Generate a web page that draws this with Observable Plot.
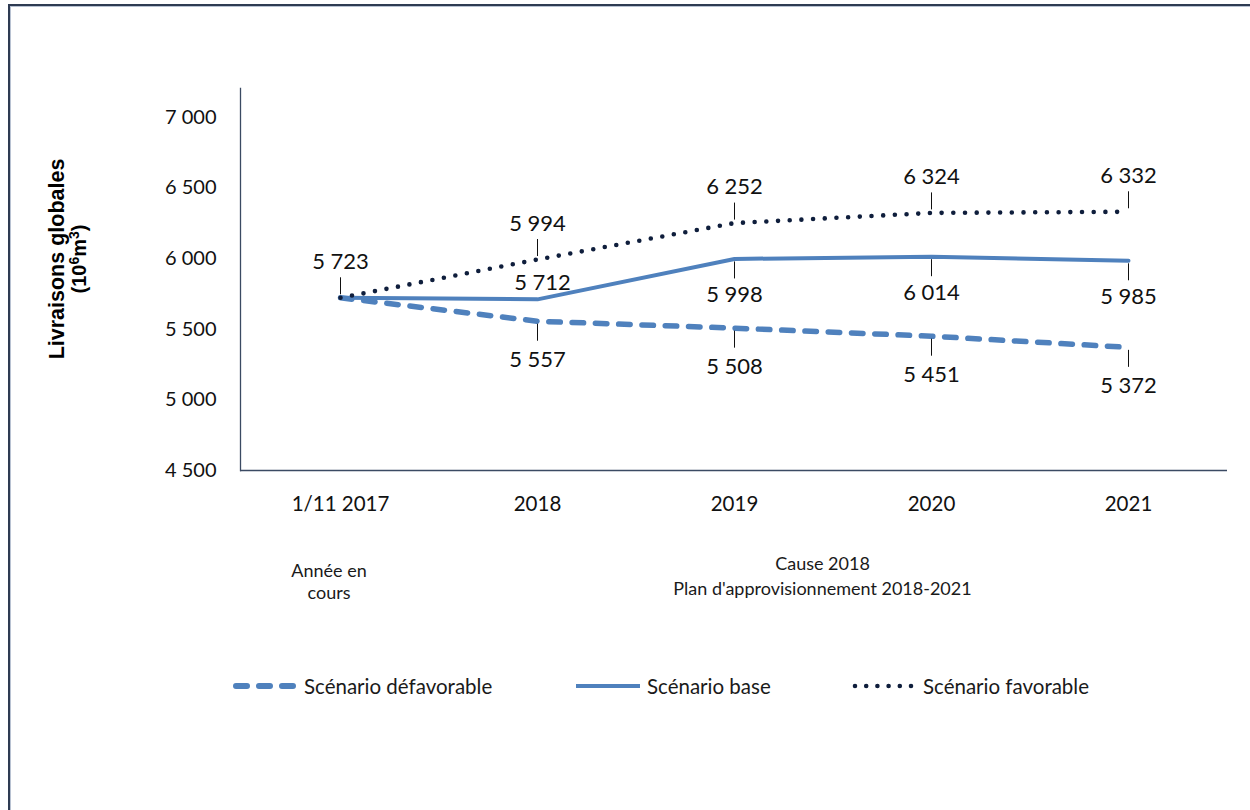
<!DOCTYPE html>
<html><head><meta charset="utf-8">
<script src="https://cdn.jsdelivr.net/npm/d3@7"></script>
<script src="https://cdn.jsdelivr.net/npm/@observablehq/plot@0.6"></script>
<style>
body{margin:0;background:#fff;font-family:Lato,"Open Sans",sans-serif;}
#wrap{position:relative;width:1250px;height:810px;overflow:hidden;background:#fff;}
#frame{position:absolute;left:8px;top:4px;width:1300px;height:900px;border-left:2px solid #2e3b52;border-top:2px solid #2e3b52;box-shadow:inset 1px 1px 0 #b8c2d2;}
#chart{position:absolute;left:0;top:0;}
.ann{position:absolute;text-align:center;font-size:18px;color:#1a1a1a;transform:translateX(-50%);white-space:nowrap;}
.ytitle{position:absolute;left:68px;top:259px;transform:translate(-50%,-50%) rotate(-90deg);font-family:"Liberation Sans",Arial,sans-serif;font-weight:bold;text-align:center;white-space:nowrap;color:#000;}
.ytitle .l1{font-size:21.5px;line-height:22px;}
.ytitle .l2{font-size:20px;line-height:22px;}
.ytitle sup{font-size:14px;vertical-align:7px;line-height:0;}
.leg{position:absolute;top:672px;display:flex;align-items:center;font-size:20.5px;color:#1a1a1a;white-space:nowrap;}
.leg svg{margin-right:7px;}
</style></head>
<body><div id="wrap">
<div id="frame"></div>
<div id="chart"></div>
<div class="ytitle"><div class="l1">Livraisons globales</div><div class="l2">(10<sup>6</sup>m<sup>3</sup>)</div></div>
<div id="anns"></div>
<div id="legend"></div>
</div>
<script>
// ---- data ----
const categories = ["1/11 2017", "2018", "2019", "2020", "2021"];
const defavorable = [5723, 5557, 5508, 5451, 5372];
const base = [5723, 5712, 5998, 6014, 5985];
const favorable = [5723, 5994, 6252, 6324, 6332];
const yTicks = [4500, 5000, 5500, 6000, 6500, 7000];
const seriesNames = ["Scénario défavorable", "Scénario base", "Scénario favorable"];
const annotations = [
  {lines: ["Année en", "cours"], at: "1/11 2017"},
  {lines: ["Cause 2018", "Plan d'approvisionnement 2018-2021"], at: "2019-2020"}
];

// ---- styles ----
const axisColor = "#3b4a63";
const blue = "#4f81bd";
const navy = "#0f1e3c";
const fmt = d3.formatLocale({thousands: " ", grouping: [3], decimal: ","}).format(",");

const toRows = (arr) => arr.map((v, i) => ({cat: categories[i], value: v, i}));
const defRows = toRows(defavorable);
const baseRows = toRows(base);
const favRows = toRows(favorable);

const favLab = favRows;
const baseAbove = baseRows.filter(d => d.i === 1);
const baseBelow = baseRows.filter(d => d.i >= 2);
const defLab = defRows.filter(d => d.i >= 1);

const labelFont = 22;
const plot = Plot.plot({
  width: 1250, height: 520,
  marginLeft: 240, marginRight: 23, marginTop: 88, marginBottom: 50,
  style: {fontFamily: "Lato, 'Open Sans', sans-serif", color: "#111", background: "transparent"},
  x: {type: "point", domain: categories, padding: 0.5},
  y: {domain: [4500, 7205]},
  marks: [
    Plot.frame({anchor: "left", stroke: axisColor, strokeWidth: 1.3}),
    Plot.ruleY([4500], {stroke: axisColor, strokeWidth: 1.3}),
    Plot.axisY({ticks: yTicks, tickSize: 0, tickPadding: 24, tickFormat: fmt, fontSize: 20, label: null}),
    Plot.axisX({tickSize: 0, tickPadding: 26, fontSize: 20.5, label: null}),
    Plot.line(defRows, {x: "cat", y: "value", stroke: blue, strokeWidth: 5.5, strokeDasharray: "11.5,11.8", strokeLinecap: "round"}),
    Plot.line(baseRows, {x: "cat", y: "value", stroke: blue, strokeWidth: 4}),
    Plot.line(favRows, {x: "cat", y: "value", stroke: navy, strokeWidth: 4.6, strokeDasharray: "0,11.7", strokeLinecap: "round"}),
    // leader lines
    Plot.ruleX(favLab, {x: "cat", y1: "value", y2: "value", insetTop: -20, insetBottom: 3, stroke: "#111", strokeWidth: 1}),
    Plot.ruleX(baseBelow, {x: "cat", y1: "value", y2: "value", insetTop: 3, insetBottom: -20, stroke: "#111", strokeWidth: 1}),
    Plot.ruleX(defLab, {x: "cat", y1: "value", y2: "value", insetTop: 3, insetBottom: -20, stroke: "#111", strokeWidth: 1}),
    // labels
    Plot.text(favLab, {x: "cat", y: "value", text: d => fmt(d.value), dy: -36, fontSize: labelFont, fill: "#111"}),
    Plot.text(baseAbove, {x: "cat", y: "value", text: d => fmt(d.value), dy: -16, dx: 5, fontSize: labelFont, fill: "#111"}),
    Plot.text(baseBelow, {x: "cat", y: "value", text: d => fmt(d.value), dy: 36, fontSize: labelFont, fill: "#111"}),
    Plot.text(defLab, {x: "cat", y: "value", text: d => fmt(d.value), dy: 39, fontSize: labelFont, fill: "#111"})
  ]
});
document.getElementById("chart").appendChild(plot);

// annotations placed with the plot's x scale
const xs = plot.scale("x");
const anns = document.getElementById("anns");
annotations.forEach((a, k) => {
  let cx;
  if (a.at.includes("-") && !categories.includes(a.at)) {
    const [p, q] = a.at.split("-");
    cx = (xs.apply(p) + xs.apply(q)) / 2 - 10;
  } else cx = xs.apply(a.at) - 11;
  const div = document.createElement("div");
  div.className = "ann";
  div.style.left = cx + "px";
  div.style.top = (k === 0 ? 559 : 551) + "px";
  div.style.lineHeight = (k === 0 ? 22 : 25) + "px";
  div.innerHTML = a.lines.join("<br>");
  anns.appendChild(div);
});

// legend
const legend = document.getElementById("legend");
const legStyles = [
  {stroke: blue, w: 6, dash: "11,12", cap: "round", x1: 3},
  {stroke: blue, w: 4, dash: null, cap: "butt", x1: 0},
  {stroke: navy, w: 4.6, dash: "0,11.2", cap: "round", x1: 3}
];
const legLeft = [233, 576, 852];
seriesNames.forEach((name, k) => {
  const s = legStyles[k];
  const item = document.createElement("div");
  item.className = "leg";
  item.style.left = legLeft[k] + "px";
  item.innerHTML = `<svg width="64" height="28"><line x1="${s.x1}" y1="14" x2="64" y2="14" stroke="${s.stroke}" stroke-width="${s.w}" ${s.dash ? `stroke-dasharray="${s.dash}"` : ""} stroke-linecap="${s.cap}"/></svg><span>${name}</span>`;
  legend.appendChild(item);
});
</script>
</body></html>
